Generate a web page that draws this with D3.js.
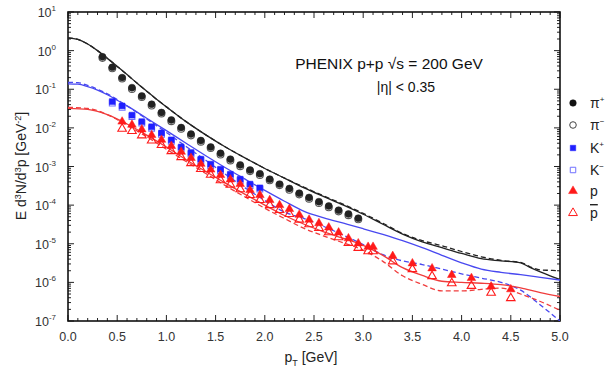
<!DOCTYPE html>
<html><head><meta charset="utf-8">
<script src="https://cdn.jsdelivr.net/npm/d3@7"></script>
<style>body{margin:0;background:#fff}text{font-family:"Liberation Sans",Arial,sans-serif}</style>
</head><body>
<svg id="c" width="614" height="376"></svg>
<script>
// ---------- data ----------
const pionPt = [0.35,0.45,0.55,0.65,0.75,0.85,0.95,1.05,1.15,1.25,1.35,1.45,1.55,1.65,1.75,1.85,1.95,2.05,2.15,2.25,2.35,2.45,2.55,2.65,2.75,2.85,2.95];
const piPlus = [0.69,0.37,0.20,0.11,0.067,0.041,0.025,0.016,0.0102,0.0069,0.0047,0.0032,0.0022,0.00155,0.0011,0.00081,0.00065,0.00047,0.00035,0.00027,0.000204,0.000158,0.000123,0.000095,0.000074,0.000059,0.000046];
const piMinus = [0.65,0.35,0.19,0.102,0.063,0.038,0.0235,0.0149,0.0095,0.0064,0.0044,0.0030,0.00205,0.00144,0.00102,0.00076,0.00060,0.00044,0.00033,0.00025,0.00019,0.000147,0.000114,0.000088,0.000069,0.000055,0.000043];

const kaonPt = [0.45,0.55,0.65,0.75,0.85,0.95,1.05,1.15,1.25,1.35,1.45,1.55,1.65,1.75,1.85,1.95];
const kPlus = [0.048,0.037,0.0214,0.0145,0.0107,0.0074,0.0049,0.0032,0.0023,0.00155,0.00115,0.00085,0.00063,0.00047,0.00035,0.00028];
const kMinus = [0.044,0.034,0.0197,0.0133,0.0098,0.0068,0.0045,0.00295,0.0021,0.00143,0.00106,0.00078,0.00058,0.00043,0.00032,0.00026];

const protonPt = [0.55,0.65,0.75,0.85,0.95,1.05,1.15,1.25,1.35,1.45,1.55,1.65,1.75,1.85,1.95,2.05,2.15,2.25,2.35,2.45,2.55,2.65,2.75,2.85,2.95,3.05,3.1,3.3,3.5,3.7,3.9,4.1,4.3,4.5];
const proton = [0.0145,0.012,0.0091,0.0065,0.0049,0.0034,0.0024,0.00166,0.00117,0.00083,0.0006,0.00046,0.00035,0.000245,0.000182,0.000135,0.0001,0.000079,0.000056,0.000042,0.000034,0.0000263,0.0000195,0.0000138,0.0000102,0.0000083,0.0000083,0.0000048,0.0000031,0.0000023,0.00000155,0.00000129,0.00000078,0.00000066];
const antiproton = [0.0095,0.0083,0.0064,0.0047,0.0036,0.0025,0.00175,0.00122,0.00086,0.00061,0.00044,0.00034,0.000258,0.000182,0.000135,0.0001,0.000075,0.000059,0.000042,0.000032,0.0000255,0.0000198,0.0000147,0.0000105,0.0000078,0.0000064,0.0000064,0.0000035,0.0000022,0.00000145,0.00000095,0.00000081,0.00000054,0.00000039];

// model curves
const pionModelPt = [0,0.1,0.2,0.3,0.4,0.5,0.6,0.7,0.8,0.9,1.0,1.2,1.4,1.6,1.8,2.0,2.2,2.4,2.6,2.8,3.0,3.2,3.4,3.6,3.8,4.0,4.2,4.4,4.6,4.7,4.8,4.9,5.0];
const pionSolid = [2.14,1.95,1.48,1.0,0.63,0.39,0.24,0.145,0.089,0.055,0.035,0.0145,0.0066,0.0032,0.00166,0.00089,0.0005,0.00028,0.000166,0.0001,5.8e-5,3.2e-5,1.78e-5,1.12e-5,7.9e-6,5.6e-6,4.1e-6,3.6e-6,3.2e-6,2.4e-6,1.86e-6,1.48e-6,1.2e-6];
const pionDashed = [2.14,1.95,1.48,1.0,0.63,0.39,0.24,0.145,0.089,0.055,0.035,0.0145,0.0066,0.0032,0.00166,0.00089,0.0005,0.00029,0.000172,0.000105,6.1e-5,3.4e-5,1.85e-5,1.2e-5,8.9e-6,6.3e-6,4.6e-6,3.7e-6,3.3e-6,2.5e-6,2.1e-6,2.05e-6,2.0e-6];

const kaonModelPt = [0,0.1,0.2,0.3,0.4,0.5,0.6,0.8,1.0,1.2,1.4,1.6,1.8,2.0,2.2,2.4,2.6,2.8,3.0,3.2,3.4,3.6,3.8,4.0,4.2,4.4,4.6,4.8,5.0];
const kaonSolid = [0.138,0.135,0.117,0.095,0.072,0.052,0.037,0.0178,0.0085,0.004,0.0019,0.00093,0.00047,0.00024,0.000126,6.9e-5,4.7e-5,3.4e-5,2.45e-5,1.74e-5,1.2e-5,7.9e-6,5.0e-6,3.2e-6,2.2e-6,1.82e-6,1.58e-6,1.35e-6,1.15e-6];
const kaonDashed = [0.151,0.148,0.126,0.1,0.076,0.054,0.037,0.017,0.0076,0.0033,0.00145,0.00063,0.00028,0.000132,6.6e-5,4.5e-5,2.8e-5,1.66e-5,9.5e-6,5.2e-6,3.6e-6,2.9e-6,2.2e-6,1.66e-6,1.29e-6,1.0e-6,6.3e-7,2.6e-7,1.0e-7];

const protonModelPt = [0,0.2,0.4,0.6,0.8,1.0,1.2,1.4,1.6,1.8,2.0,2.2,2.4,2.6,2.8,3.0,3.2,3.4,3.6,3.8,4.0,4.2,4.4,4.6,4.8,5.0];
const protonSolid = [0.032,0.030,0.022,0.0126,0.0065,0.0032,0.0015,0.00074,0.00037,0.00019,0.0001,5.4e-5,3.2e-5,2.04e-5,1.38e-5,9.1e-6,5.0e-6,2.4e-6,1.51e-6,1.07e-6,1.0e-6,9.5e-7,8.7e-7,7.2e-7,5.4e-7,4.3e-7];
const protonDashed = [0.034,0.032,0.022,0.0117,0.0059,0.0028,0.00135,0.00066,0.00032,0.000162,8.3e-5,4.5e-5,2.5e-5,1.58e-5,1.05e-5,6.8e-6,3.5e-6,1.48e-6,8.9e-7,6.0e-7,6.0e-7,6.6e-7,7.1e-7,5.0e-7,3.2e-7,1.9e-7];

const xTicks = [0,0.5,1.0,1.5,2.0,2.5,3.0,3.5,4.0,4.5,5.0];
const yExponents = [-7,-6,-5,-4,-3,-2,-1,0,1];
const legendLabels = ["π","π","K","K","p","p"];
const legendSups = ["+","−","+","−","",""];

// ---------- drawing ----------
const svg = d3.select("#c");
const L = 68, R = 560, T = 12, B = 321;
const x = d3.scaleLinear().domain([0,5]).range([L,R]);
const y = d3.scaleLog().domain([1e-7,10]).range([B,T]);

const BLUE = "#1f1fff", BLUEL = "#4848f0", RED = "#ff1a1a", REDL = "#f03c3c";

svg.append("rect").attr("width",614).attr("height",376).attr("fill","#fff");
svg.append("defs").append("clipPath").attr("id","clip")
  .append("rect").attr("x",L).attr("y",T).attr("width",R-L).attr("height",B-T);

// minor ticks
const xMinor = d3.range(0,51).map(i=>i/10).filter(v=>Math.abs(v*2-Math.round(v*2))>1e-6);
const yMinor = [];
for (let e=-7;e<1;e++) for (let m=2;m<10;m++) yMinor.push(m*Math.pow(10,e));

const axG = svg.append("g").attr("stroke","#222").attr("stroke-width",1);
function tickLines(vals, fn, len){ axG.selectAll(null).data(vals).enter().append("line").each(function(d){ const c=fn(d,len); d3.select(this).attr("x1",c[0]).attr("y1",c[1]).attr("x2",c[2]).attr("y2",c[3]); }); }
tickLines(xTicks, (d,l)=>[x(d),B,x(d),B-l], 6);
tickLines(xMinor, (d,l)=>[x(d),B,x(d),B-l], 3);
tickLines(xTicks, (d,l)=>[x(d),T,x(d),T+l], 6);
tickLines(xMinor, (d,l)=>[x(d),T,x(d),T+l], 3);
const yMajorVals = yExponents.map(e=>Math.pow(10,e));
tickLines(yMajorVals, (d,l)=>[L,y(d),L+l,y(d)], 6);
tickLines(yMinor, (d,l)=>[L,y(d),L+l,y(d)], 3);
tickLines(yMajorVals, (d,l)=>[R,y(d),R-l,y(d)], 6);
tickLines(yMinor, (d,l)=>[R,y(d),R-l,y(d)], 3);

svg.append("rect").attr("x",L).attr("y",T).attr("width",R-L).attr("height",B-T)
  .attr("fill","none").attr("stroke","#111").attr("stroke-width",1.6);

// x tick labels
svg.append("g").selectAll("text").data(xTicks).enter().append("text")
  .attr("x",d=>x(d)).attr("y",B+20).attr("text-anchor","middle")
  .attr("font-size",12.5).attr("fill","#333").text(d=>d.toFixed(1));

// y tick labels
const yl = svg.append("g").selectAll("text").data(yExponents).enter().append("text")
  .attr("x",L-12).attr("y",d=>y(Math.pow(10,d))+5).attr("text-anchor","end")
  .attr("font-size",12.5).attr("fill","#333");
yl.append("tspan").text("10");
yl.append("tspan").attr("dy",-6).attr("font-size",8).text(d=>String(d));

// axis titles
const xt = svg.append("text").attr("x",311).attr("y",362).attr("text-anchor","middle")
  .attr("font-size",14).attr("fill","#222");
xt.append("tspan").text("p");
xt.append("tspan").attr("dy",4).attr("font-size",9).text("T");
xt.append("tspan").attr("dy",-4).text(" [GeV]");

const yt = svg.append("text").attr("transform","translate(26,166) rotate(-90)")
  .attr("text-anchor","middle").attr("font-size",14).attr("fill","#222");
yt.append("tspan").text("E d");
yt.append("tspan").attr("dy",-5).attr("font-size",9).text("3");
yt.append("tspan").attr("dy",5).text("N/d");
yt.append("tspan").attr("dy",-5).attr("font-size",9).text("3");
yt.append("tspan").attr("dy",5).text("p [GeV");
yt.append("tspan").attr("dy",-5).attr("font-size",9).text("-2");
yt.append("tspan").attr("dy",5).text("]");

// annotation
svg.append("text").attr("x",389).attr("y",69).attr("text-anchor","middle")
  .attr("font-size",15.5).attr("fill","#111").text("PHENIX p+p √s = 200 GeV");
svg.append("text").attr("x",406).attr("y",92).attr("text-anchor","middle")
  .attr("font-size",14).attr("fill","#111").text("|η| < 0.35");

// model lines
const plot = svg.append("g").attr("clip-path","url(#clip)");
const line = d3.line().x(d=>x(d[0])).y(d=>y(d[1])).curve(d3.curveMonotoneX);
function drawLine(pts, vals, color, dashed){
  plot.append("path").datum(pts.map((p,i)=>[p,vals[i]]))
    .attr("d",line).attr("fill","none").attr("stroke",color).attr("stroke-width",1.3)
    .attr("stroke-dasharray",dashed?"5,3":null);
}
drawLine(pionModelPt, pionSolid, "#222", false);
drawLine(pionModelPt, pionDashed, "#222", true);
drawLine(kaonModelPt, kaonSolid, BLUEL, false);
drawLine(kaonModelPt, kaonDashed, BLUEL, true);
drawLine(protonModelPt, protonSolid, REDL, false);
drawLine(protonModelPt, protonDashed, REDL, true);

// markers
const sym = {
  circle: d3.symbol().type(d3.symbolCircle).size(38),
  square: d3.symbol().type(d3.symbolSquare).size(34),
  triangle: d3.symbol().type(d3.symbolTriangle).size(32)
};
function drawPts(pts, vals, shape, color, filled){
  plot.append("g").selectAll("path").data(pts.map((p,i)=>[p,vals[i]])).enter().append("path")
    .attr("transform",d=>`translate(${x(d[0])},${y(d[1])})`)
    .attr("d",sym[shape])
    .attr("fill",filled?color:"none").attr("stroke",color).attr("stroke-width",filled?0.5:1.1);
}
drawPts(pionPt, piMinus, "circle", "#555", false);
drawPts(pionPt, piPlus, "circle", "#222", true);
drawPts(kaonPt, kMinus, "square", "#7070ff", false);
drawPts(kaonPt, kPlus, "square", BLUE, true);
drawPts(protonPt, antiproton, "triangle", RED, false);
drawPts(protonPt, proton, "triangle", RED, true);

// legend
const legY = [103,125,148,170,191,213];
const legColor = ["#111","#444",BLUE,"#7070ff",RED,RED];
const legFill = [true,false,true,false,true,false];
const lg = svg.append("g");
legY.forEach((ly,i)=>{
  lg.append("path").attr("transform",`translate(573,${ly})`)
    .attr("d",d3.symbol().type(i<2?d3.symbolCircle:(i<4?d3.symbolSquare:d3.symbolTriangle)).size(i<2?34:(i<4?30:34)))
    .attr("fill",legFill[i]?legColor[i]:"none").attr("stroke",legColor[i]).attr("stroke-width",legFill[i]?0.5:1);
  const t = lg.append("text").attr("x",590).attr("y",ly+5).attr("font-size",14).attr("fill","#222")
    .attr("font-family", i<2?"'Liberation Serif',serif":"'Liberation Sans',sans-serif");
  t.append("tspan").text(legendLabels[i]);
  if (legendSups[i]) t.append("tspan").attr("dy",-6).attr("font-size",8).text(legendSups[i]);
  if (i===5) t.attr("text-decoration","overline");
});
</script>
</body></html>
